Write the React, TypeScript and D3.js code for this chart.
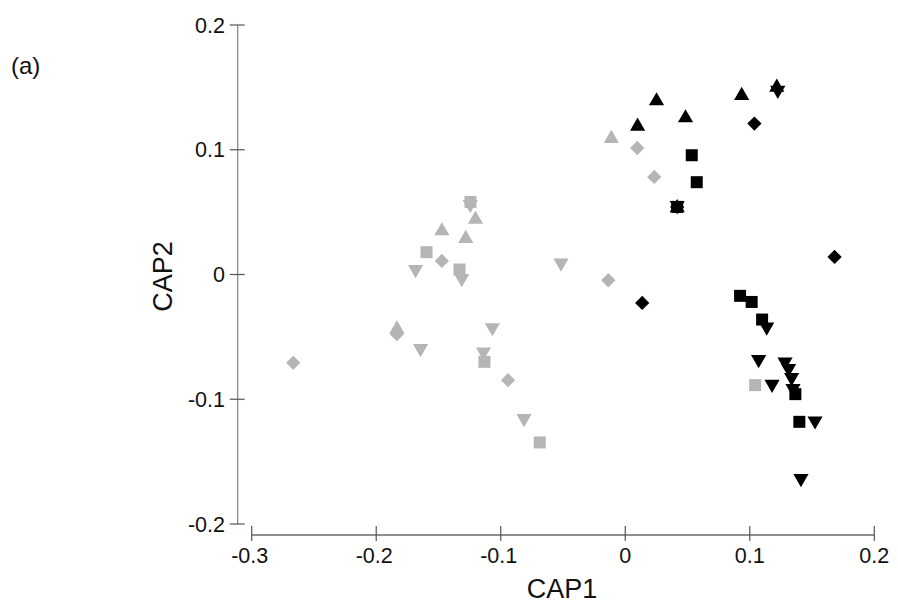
import React from "react";
import * as d3 from "d3";

const xTicks = [-0.3, -0.2, -0.1, 0, 0.1, 0.2];
const yTicks = [-0.2, -0.1, 0, 0.1, 0.2];
const xTickLabels = ["-0.3", "-0.2", "-0.1", "0", "0.1", "0.2"];
const yTickLabels = ["-0.2", "-0.1", "0", "0.1", "0.2"];

// grey group
const greySquares: [number, number][] = [
  [-0.1243, 0.0582], [-0.1596, 0.0179], [-0.1331, 0.004], [-0.1131, -0.07],
  [-0.0687, -0.1346], [0.1043, -0.0887],
];
const greyUp: [number, number][] = [
  [-0.1203, 0.0441], [-0.1473, 0.0349], [-0.1281, 0.0288], [-0.1834, -0.0438],
  [-0.0112, 0.109],
];
const greyDown: [number, number][] = [
  [-0.1245, 0.0563], [-0.1684, 0.004], [-0.1313, -0.0032], [-0.0516, 0.0093],
  [-0.1644, -0.0593], [-0.1067, -0.0425], [-0.1139, -0.062], [-0.0813, -0.1154],
];
const greyDiamonds: [number, number][] = [
  [-0.1473, 0.0109], [-0.1834, -0.0478], [-0.0941, -0.0847], [-0.2666, -0.0708],
  [0.0096, 0.1014], [0.0233, 0.0782], [-0.0136, -0.0046],
];

// black group
const blackSquares: [number, number][] = [
  [0.0534, 0.0956], [0.0574, 0.074], [0.0417, 0.0542], [0.0922, -0.0171],
  [0.1015, -0.022], [0.1099, -0.0361], [0.1366, -0.0959], [0.1398, -0.1181],
];
const blackUp: [number, number][] = [
  [0.0251, 0.1391], [0.0099, 0.1188], [0.0484, 0.1255], [0.0935, 0.1434],
  [0.1217, 0.150], [0.0417, 0.0535],
];
const blackDown: [number, number][] = [
  [0.1225, 0.1477], [0.1136, -0.042], [0.1071, -0.0681], [0.1283, -0.07],
  [0.1312, -0.0753], [0.1336, -0.0825], [0.1179, -0.0879], [0.1347, -0.0913],
  [0.1524, -0.1173], [0.1411, -0.1635], [0.0417, 0.0555],
];
const blackDiamonds: [number, number][] = [
  [0.1037, 0.121], [0.0417, 0.0542], [0.1681, 0.0141], [0.0136, -0.0228],
];

const GREY = "#b5b5b5";
const BLACK = "#000000";

const series = [
  { pts: greySquares, shape: "square", color: GREY },
  { pts: greyUp, shape: "up", color: GREY },
  { pts: greyDown, shape: "down", color: GREY },
  { pts: greyDiamonds, shape: "diamond", color: GREY },
  { pts: blackSquares, shape: "square", color: BLACK },
  { pts: blackUp, shape: "up", color: BLACK },
  { pts: blackDown, shape: "down", color: BLACK },
  { pts: blackDiamonds, shape: "diamond", color: BLACK },
];

export default function App() {
  const W = 898;
  const H = 603;
  const x = d3.scaleLinear().domain([-0.3, 0.2]).range([251.7, 874.3]);
  const y = d3.scaleLinear().domain([-0.2, 0.2]).range([524, 25]);
  const yAxisX = 237.7;
  const xAxisY = 535;

  const squarePath = d3.symbol().type(d3.symbolSquare).size(144)() as string;
  const diamondPath = d3.symbol().type(d3.symbolSquare).size(102)() as string;
  const triPath = d3.symbol().type(d3.symbolTriangle).size(100)() as string;

  const font = "'Liberation Sans', Arial, sans-serif";

  return (
    <svg width={W} height={H} style={{ display: "block", position: "absolute", left: 0, top: 0 }}>
      <rect x={0} y={0} width={W} height={H} fill="#fff" />
      <text x={11} y={74} fontFamily={font} fontSize={24} fill="#111">(a)</text>

      {/* y axis */}
      <line x1={yAxisX} x2={yAxisX} y1={y(0.2)} y2={y(-0.2)} stroke="#8a8a8a" strokeWidth={1.3} />
      {yTicks.map((t, i) => (
        <g key={"yt" + i}>
          <line x1={yAxisX - 8} x2={yAxisX + 7} y1={y(t)} y2={y(t)} stroke="#555" strokeWidth={1.2} />
          <text x={225} y={y(t)} dy="0.35em" textAnchor="end" fontFamily={font} fontSize={21.5} fill="#111">
            {yTickLabels[i]}
          </text>
        </g>
      ))}

      {/* x axis */}
      <line x1={x(-0.3)} x2={x(0.2)} y1={xAxisY} y2={xAxisY} stroke="#6a6a6a" strokeWidth={1.3} />
      {xTicks.map((t, i) => (
        <g key={"xt" + i}>
          <line x1={x(t)} x2={x(t)} y1={xAxisY - 9} y2={xAxisY + 6} stroke="#555" strokeWidth={1.2} />
          <text x={x(t) - (xTickLabels[i].startsWith("-") ? 2 : 0)} y={563} textAnchor="middle" fontFamily={font} fontSize={21.5} fill="#111">
            {xTickLabels[i]}
          </text>
        </g>
      ))}

      <text x={562} y={598} textAnchor="middle" fontFamily={font} fontSize={27} fill="#111">CAP1</text>
      <text transform={`translate(171.5, 276.5) rotate(-90)`} textAnchor="middle" fontFamily={font} fontSize={27} fill="#111">CAP2</text>

      {series.map((s, si) => (
        <g key={"s" + si} fill={s.color}>
          {s.pts.map((p, pi) => {
            const cx = x(p[0]);
            const cy = y(p[1]);
            let d = squarePath;
            let rot = 0;
            if (s.shape === "diamond") { d = diamondPath; rot = 45; }
            else if (s.shape === "up") { d = triPath; rot = 0; }
            else if (s.shape === "down") { d = triPath; rot = 180; }
            return <path key={pi} d={d} transform={`translate(${cx},${cy}) rotate(${rot})`} />;
          })}
        </g>
      ))}
    </svg>
  );
}
